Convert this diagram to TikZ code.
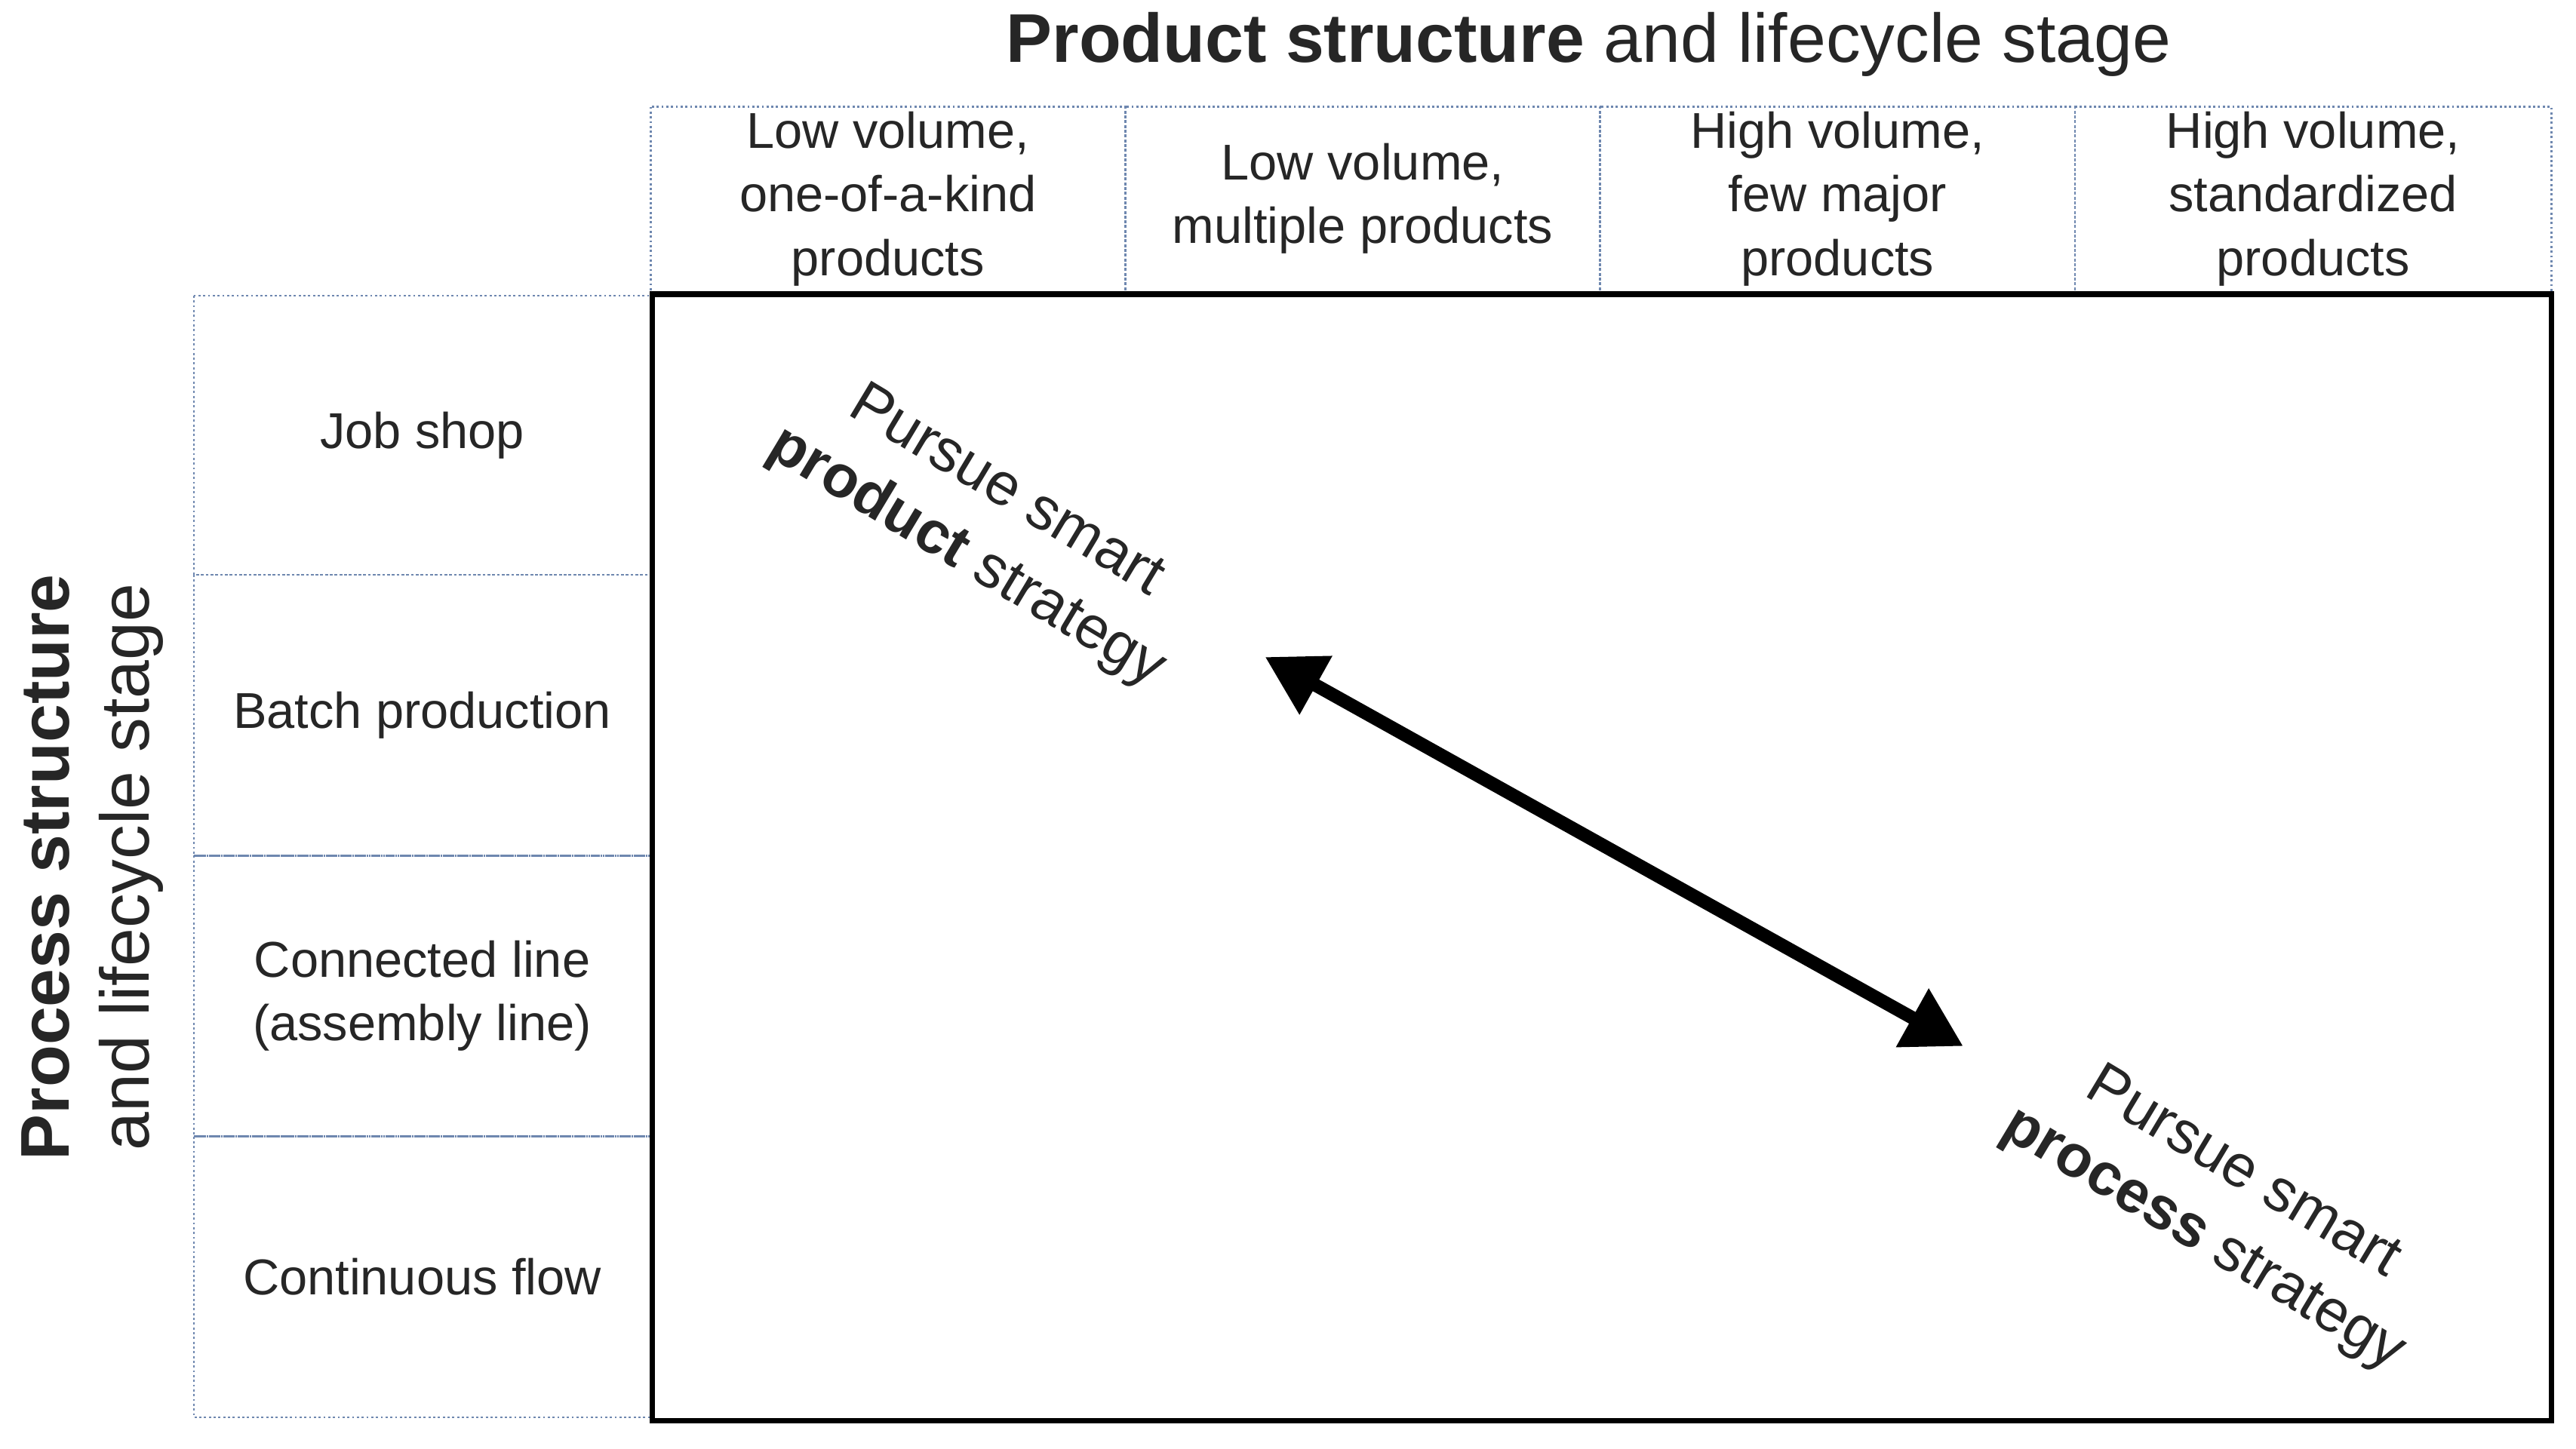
\documentclass[tikz,border=0pt]{standalone}
\usepackage{fontspec}
\setmainfont{Liberation Sans}
\usetikzlibrary{arrows.meta}
\definecolor{grid}{RGB}{110,135,175}
\begin{document}
\begin{tikzpicture}[x=0.02177cm,y=-0.02177cm,
  cell/.style={draw=grid,densely dotted,line width=0.8pt},
  txt/.style={align=center,font=\fontsize{19}{24}\selectfont,text=black!85},
  diag/.style={align=center,font=\fontsize{22.5}{29}\selectfont,rotate=-31,text=black!85}]
\useasboundingbox (0,0) rectangle (1568,882);
\node[font=\fontsize{26}{30}\selectfont,text=black!85] (title) at (967,27) {\textbf{Product structure} and lifecycle stage};
\foreach \a/\b/\t [count=\i] in {396/685/{Low volume,\\one-of-a-kind\\products},685/974/{Low volume,\\multiple products},974/1263/{High volume,\\few major\\products},1263/1553/{High volume,\\standardized\\products}}{
  \draw[cell] (\a,65) rectangle (\b,178);
  \node[txt] (h\i) at ({(\a+\b)/2},121) {\t};
}
\foreach \a/\b/\t [count=\i] in {180/350/{Job shop},350/521/{Batch production},521/692/{Connected line\\(assembly line)},692/863/{Continuous flow}}{
  \draw[cell] (118,\a) rectangle (396,\b);
  \node[txt] (r\i) at (257,{(\a+\b)/2}) {\t};
}
\draw[line width=2.2pt] (397,179) rectangle (1553,865);
\node[rotate=90,font=\fontsize{26}{30}\selectfont,text=black!85] (pl1) at (28,528) {\textbf{Process structure}};
\node[rotate=90,font=\fontsize{26}{30}\selectfont,text=black!85] (pl2) at (80,528) {and lifecycle stage};
\node[diag] (prod) at (600,320) {Pursue smart\\\textbf{product} strategy};
\node[diag] (proc) at (1353,735) {Pursue smart\\\textbf{process} strategy};
\coordinate (a1) at (770,400);
\coordinate (a2) at (1195,637);
\draw[line width=5pt,{Triangle[length=22pt,width=24pt]}-{Triangle[length=22pt,width=24pt]}] (a1) -- (a2);
\end{tikzpicture}
\end{document}
